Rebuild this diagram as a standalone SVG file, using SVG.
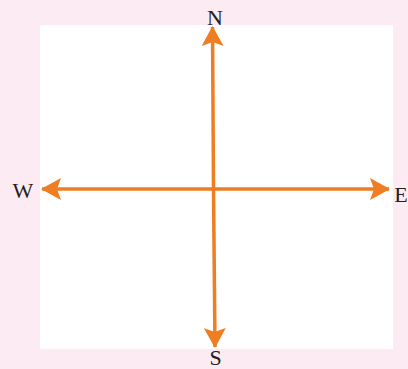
<svg xmlns="http://www.w3.org/2000/svg" width="408" height="369" viewBox="0 0 408 369">
<style>
.lbl{font-family:"Liberation Serif","Times New Roman",serif;font-size:22px;fill:#231f20;text-anchor:middle}
.arr{stroke:#ef7d22;stroke-width:3.5;fill:none;marker-end:url(#ah)}
</style>
<defs>
<marker id="ah" viewBox="0 0 20 22" refX="19" refY="11" markerWidth="20" markerHeight="22" markerUnits="userSpaceOnUse" orient="auto">
<path d="M0,0 L20,11 L0,22 L4,11 Z" fill="#ef7d22"/>
</marker>
</defs>
<rect width="408" height="369" fill="#fcebf3"/>
<rect x="40" y="25" width="353" height="324" fill="#ffffff"/>
<g id="connectors">
<line class="arr" x1="213.5" y1="188" x2="212.5" y2="27"/>
<line class="arr" x1="213.5" y1="188" x2="215" y2="347"/>
<line class="arr" x1="213.5" y1="189" x2="42" y2="189"/>
<line class="arr" x1="213.5" y1="189" x2="389" y2="189"/>
</g>
<g id="N"><text class="lbl" x="215" y="25">N</text></g>
<g id="W"><text class="lbl" x="23" y="198">W</text></g>
<g id="E"><text class="lbl" x="401" y="202">E</text></g>
<g id="S"><text class="lbl" x="215.5" y="365">S</text></g>
</svg>
